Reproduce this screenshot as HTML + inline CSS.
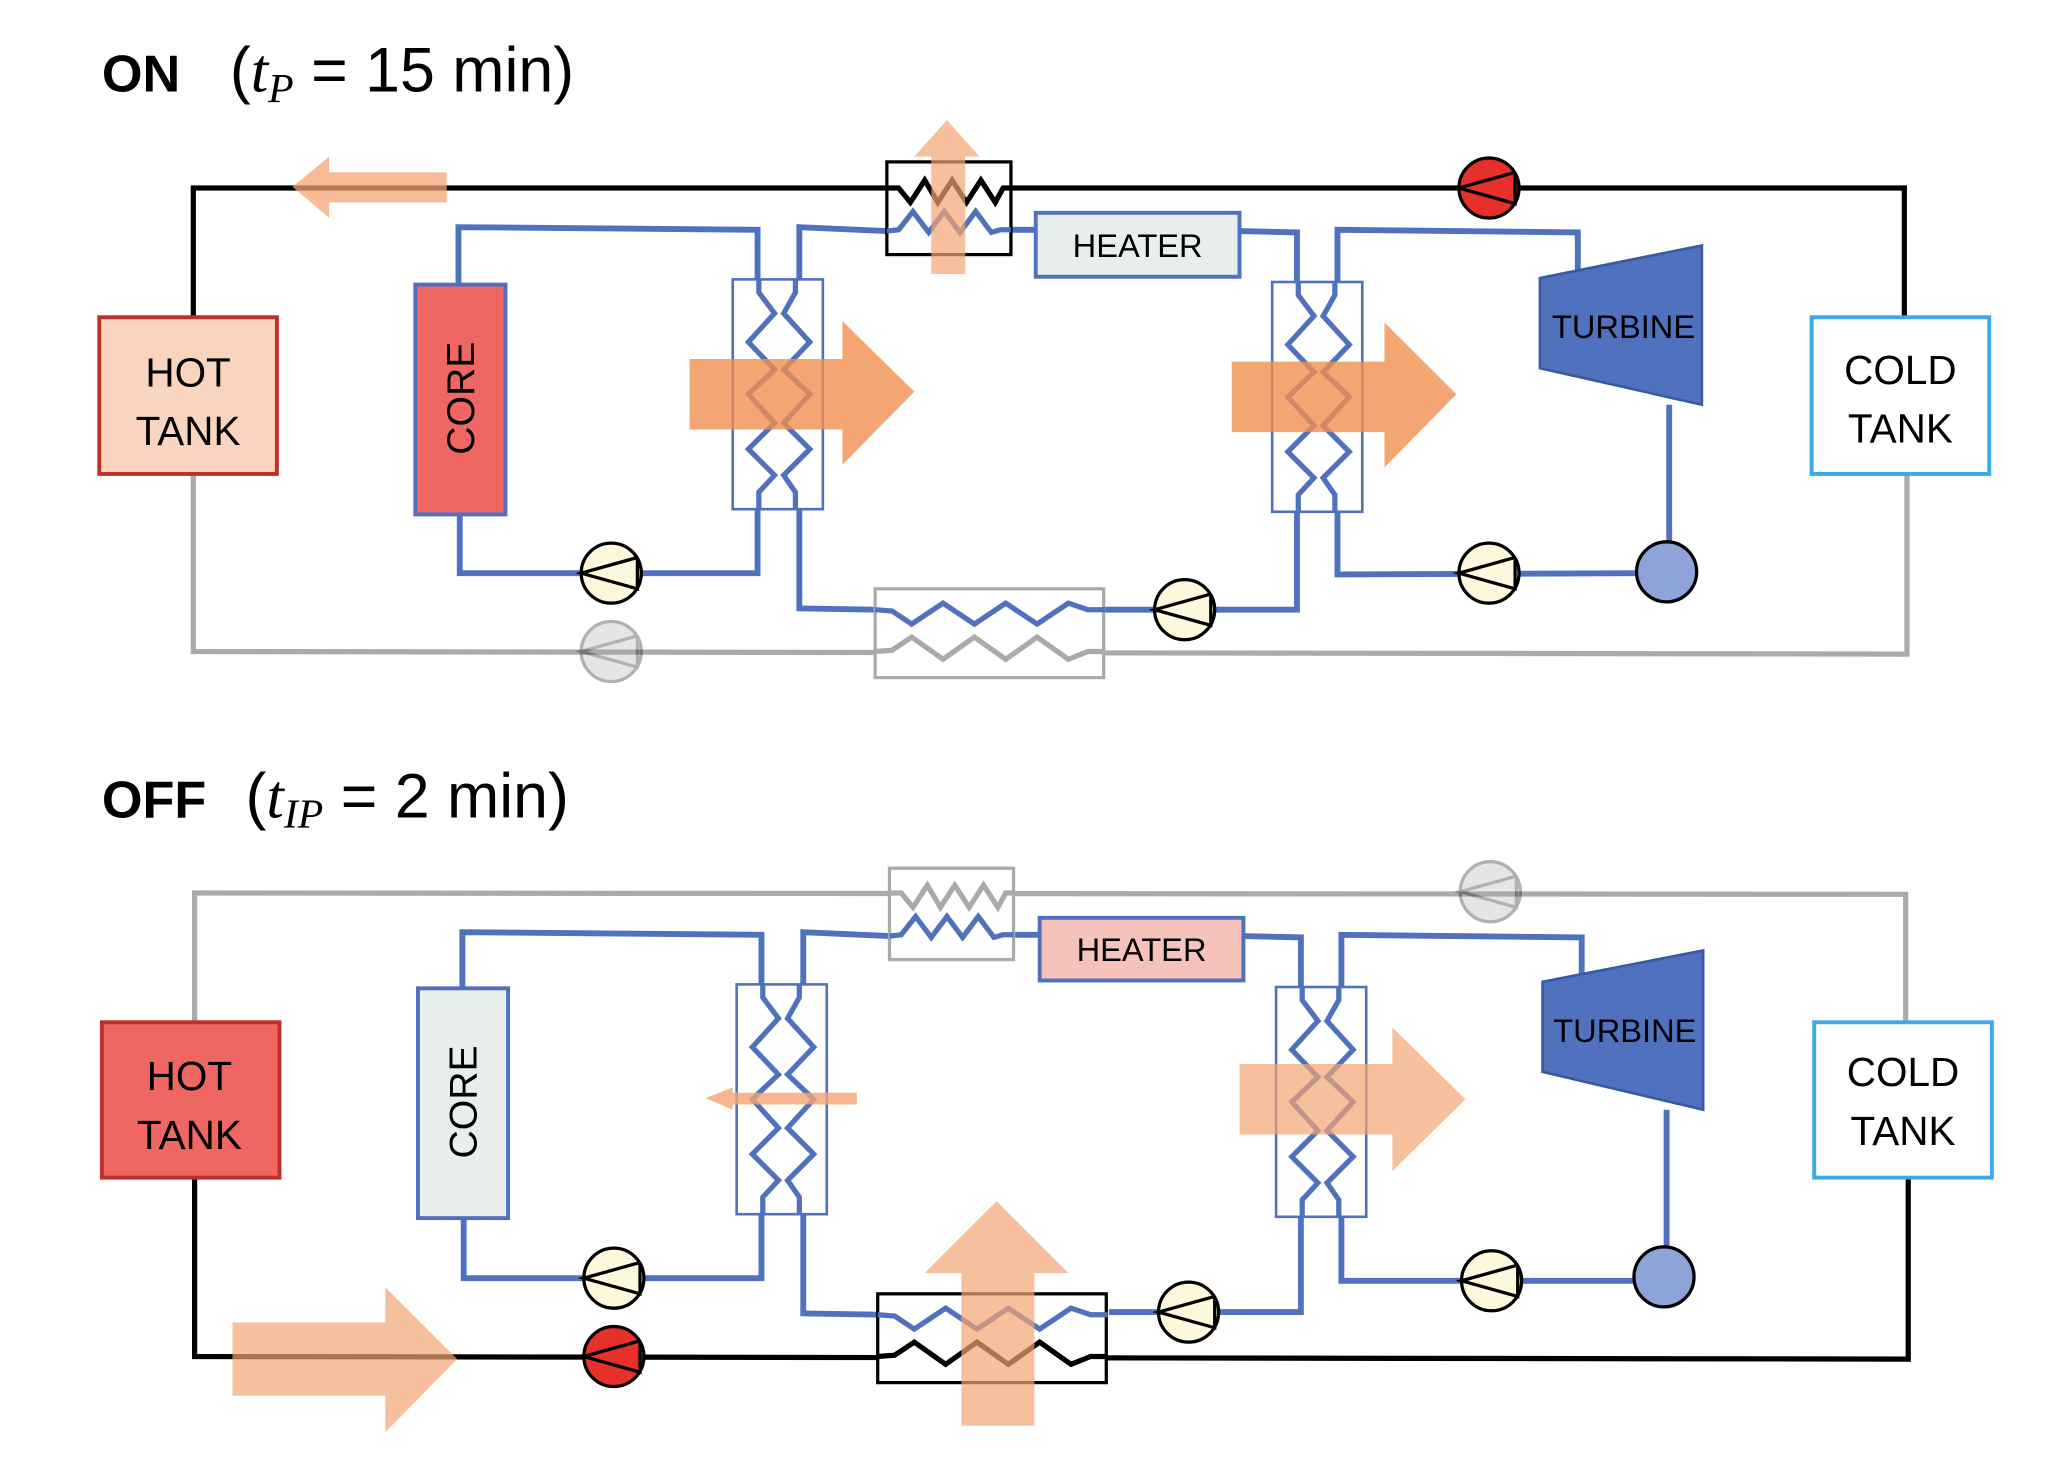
<!DOCTYPE html>
<html><head><meta charset="utf-8"><style>html,body{margin:0;padding:0;background:#fff}svg{display:block}</style></head>
<body>
<svg width="2048" height="1474" viewBox="0 0 1568 1129" preserveAspectRatio="none" xmlns="http://www.w3.org/2000/svg" font-family="Liberation Sans, sans-serif">
<defs>
<g id="hxv" fill="none">
<rect x="0" y="0" width="69" height="176" stroke="#4f71be" stroke-width="2"/>
<polyline points="20,0 20,10 32,26 12,48 32,69 12,88 32,110 12,130 32,150 20,163 20,176" stroke="#4f71be" stroke-width="4"/>
<polyline points="48,0 48,10 39,26 59,48 39,69 59,88 39,110 59,130 39,150 48,163 48,176" stroke="#4f71be" stroke-width="4"/>
</g>
<g id="pump"><circle cx="0" cy="0" r="23" stroke="#000" stroke-width="2.5"/><polyline points="20,-12 -23,0 20,12 20,-12" fill="none" stroke="#000" stroke-width="2.5"/></g>
</defs>

<!-- ===== ON ===== -->
<text x="78" y="70" font-size="40" font-weight="bold">ON</text>
<text x="176" y="70" font-size="48">(<tspan font-family="Liberation Serif, serif" font-style="italic">t</tspan><tspan font-family="Liberation Serif, serif" font-style="italic" font-size="32" dy="8">P</tspan><tspan dy="-8"> = 15 min)</tspan></text>

<polyline points="148,243 148,144 1458,144 1458,243" fill="none" stroke="#000" stroke-width="4"/>
<polyline points="148,363 148,499 1460,501 1460,363" fill="none" stroke="#aaa" stroke-width="4"/>
<polygon points="224,143 252,120 252,132 342,132 342,155 252,155 252,167" fill="#f4a574" opacity="0.75"/>

<g fill="none" stroke="#4f71be" stroke-width="4.5">
<polyline points="351,217 351,174 580,176 580,214"/>
<polyline points="352,394 352,439 580,439 580,390"/>
<polyline points="612,214 612,174 679,177"/>
<polyline points="774,176 793,176"/>
<polyline points="949,177 993,178 993,216"/>
<polyline points="1024,216 1024,176 1208,178 1208,213"/>
<polyline points="1278,310 1278,415"/>
<polyline points="1253,439 1024,440 1024,392"/>
<polyline points="993,392 993,467 846,467"/>
<polyline points="670,467 612,466 612,390"/>
</g>
<rect x="318" y="218" width="69" height="176" fill="#ee6762" stroke="#4f71be" stroke-width="3"/>
<text transform="translate(363,305) rotate(-90)" font-size="30" text-anchor="middle">CORE</text>
<use href="#hxv" x="561" y="214"/>
<use href="#hxv" x="974" y="216"/>
<rect x="679" y="124" width="95" height="71" fill="#fff" stroke="#000" stroke-width="2.5"/>
<polyline points="679,144 688,144 697,155 708,138 718,155 729,138 740,155 751,138 762,155 768,144 774,144" fill="none" stroke="#000" stroke-width="4"/>
<polyline points="679,177 688,176 699,162 711,178 723,162 735,178 747,162 759,178 766,176 774,176" fill="none" stroke="#4f71be" stroke-width="4"/>
<polygon points="725,92 750,120 739,120 739,210 713,210 713,120 700,120" fill="#f4a574" opacity="0.7"/>
<rect x="793" y="163" width="156" height="49" fill="#e8eeee" stroke="#4f71be" stroke-width="3"/>
<text x="871" y="197" font-size="25" text-anchor="middle">HEATER</text>
<rect x="670" y="451" width="175" height="68" fill="#fff" stroke="#aaa" stroke-width="2.5"/>
<polyline points="670,467 683,468 698,478 722,462 746,478 770,462 794,478 818,462 833,467 846,467" fill="none" stroke="#4f71be" stroke-width="4"/>
<polyline points="670,499 683,498 698,488 722,505 746,488 770,505 794,488 818,505 833,499 846,499" fill="none" stroke="#aaa" stroke-width="4"/>
<polygon points="528,275 645,275 645,246 700,300 645,356 645,329 528,329" fill="#f0904f" opacity="0.8"/>
<polygon points="943,277 1060,277 1060,247 1115,302 1060,358 1060,331 943,331" fill="#f0904f" opacity="0.8"/>
<polygon points="1179,213 1303,188 1303,310 1179,282" fill="#4f71be" stroke="#3a5aa0" stroke-width="2"/>
<text x="1243" y="259" font-size="25" text-anchor="middle">TURBINE</text>
<circle cx="1276" cy="438" r="23" fill="#8ea4d8" stroke="#000" stroke-width="2.5"/>
<use href="#pump" x="468" y="439" fill="#fdf7dc"/>
<use href="#pump" x="907" y="467" fill="#fdf7dc"/>
<use href="#pump" x="1140" y="439" fill="#fdf7dc"/>
<use href="#pump" x="1140" y="144" fill="#e8302a"/>
<g opacity="0.3"><use href="#pump" x="468" y="499" fill="#aaa"/></g>
<rect x="76" y="243" width="136" height="120" fill="#f9d5bf" stroke="#c0302a" stroke-width="3"/>
<text x="144" y="296" font-size="31" text-anchor="middle">HOT</text>
<text x="144" y="341" font-size="31" text-anchor="middle">TANK</text>
<rect x="1387" y="243" width="136" height="120" fill="#fff" stroke="#3fa8e8" stroke-width="3"/>
<text x="1455" y="294" font-size="31" text-anchor="middle">COLD</text>
<text x="1455" y="339" font-size="31" text-anchor="middle">TANK</text>

<!-- ===== OFF ===== -->
<text x="78" y="626" font-size="40" font-weight="bold">OFF</text>
<text x="188" y="626" font-size="48">(<tspan font-family="Liberation Serif, serif" font-style="italic">t</tspan><tspan font-family="Liberation Serif, serif" font-style="italic" font-size="32" dy="8">IP</tspan><tspan dy="-8"> = 2 min)</tspan></text>

<g transform="translate(1,540)">
<polyline points="148,243 148,144 1458,145 1458,243" fill="none" stroke="#aaa" stroke-width="4"/>
<polyline points="148,363 148,499 1460,501 1460,363" fill="none" stroke="#000" stroke-width="4"/>
<g fill="none" stroke="#4f71be" stroke-width="4.5">
<polyline points="353,217 353,174 582,176 582,214"/>
<polyline points="354,394 354,439 582,439 582,390"/>
<polyline points="614,214 614,174 681,177"/>
<polyline points="776,176 795,176"/>
<polyline points="951,177 995,178 995,216"/>
<polyline points="1026,216 1026,176 1210,178 1210,213"/>
<polyline points="1275,310 1275,415"/>
<polyline points="1251,441 1026,441 1026,392"/>
<polyline points="995,392 995,465 848,465"/>
<polyline points="672,467 614,466 614,390"/>
</g>
<rect x="319" y="217" width="69" height="176" fill="#e8eeee" stroke="#4f71be" stroke-width="3"/>
<text transform="translate(364,304) rotate(-90)" font-size="30" text-anchor="middle">CORE</text>
<use href="#hxv" x="563" y="214"/>
<use href="#hxv" x="976" y="216"/>
<rect x="680" y="125" width="95" height="70" fill="#fff" stroke="#aaa" stroke-width="2.5"/>
<polyline points="680,144 689,144 698,155 709,138 719,155 730,138 741,155 752,138 763,155 769,144 775,144" fill="none" stroke="#aaa" stroke-width="4"/>
<polyline points="680,177 689,176 700,162 712,178 724,162 736,178 748,162 760,178 767,176 775,176" fill="none" stroke="#4f71be" stroke-width="4"/>
<rect x="795" y="163" width="156" height="48" fill="#f5c3bc" stroke="#4f71be" stroke-width="3"/>
<text x="873" y="196" font-size="25" text-anchor="middle">HEATER</text>
<rect x="671" y="451" width="175" height="68" fill="#fff" stroke="#000" stroke-width="2.5"/>
<polyline points="671,467 684,468 699,478 723,462 747,478 771,462 795,478 819,462 834,467 847,467" fill="none" stroke="#4f71be" stroke-width="4"/>
<polyline points="671,499 684,498 699,488 723,505 747,488 771,505 795,488 819,505 834,499 847,499" fill="none" stroke="#000" stroke-width="4"/>
<polygon points="539,301 560,293 560,297 655,297 655,306 560,306 560,310" fill="#f4a574" opacity="0.8"/>
<polygon points="948,275 1065,275 1065,247 1121,302 1065,357 1065,329 948,329" fill="#f4a574" opacity="0.7"/>
<polygon points="762,380 817,435 791,435 791,552 735,552 735,435 707,435" fill="#f4a574" opacity="0.7"/>
<polygon points="177,473 294,473 294,446 349,501 294,557 294,529 177,529" fill="#f4a574" opacity="0.7"/>
<polygon points="1180,212 1303,188 1303,310 1180,281" fill="#4f71be" stroke="#3a5aa0" stroke-width="2"/>
<text x="1243" y="258" font-size="25" text-anchor="middle">TURBINE</text>
<circle cx="1273" cy="438" r="23" fill="#8ea4d8" stroke="#000" stroke-width="2.5"/>
<use href="#pump" x="469" y="439" fill="#fdf7dc"/>
<use href="#pump" x="909" y="465" fill="#fdf7dc"/>
<use href="#pump" x="1141" y="441" fill="#fdf7dc"/>
<use href="#pump" x="469" y="499" fill="#e8302a"/>
<g opacity="0.3"><use href="#pump" x="1140" y="143" fill="#aaa"/></g>
<rect x="77" y="243" width="136" height="119" fill="#ee6762" stroke="#c0302a" stroke-width="3"/>
<text x="144" y="295" font-size="31" text-anchor="middle">HOT</text>
<text x="144" y="340" font-size="31" text-anchor="middle">TANK</text>
<rect x="1388" y="243" width="136" height="119" fill="#fff" stroke="#3fa8e8" stroke-width="3"/>
<text x="1456" y="292" font-size="31" text-anchor="middle">COLD</text>
<text x="1456" y="337" font-size="31" text-anchor="middle">TANK</text>
</g>
</svg>
</body></html>
